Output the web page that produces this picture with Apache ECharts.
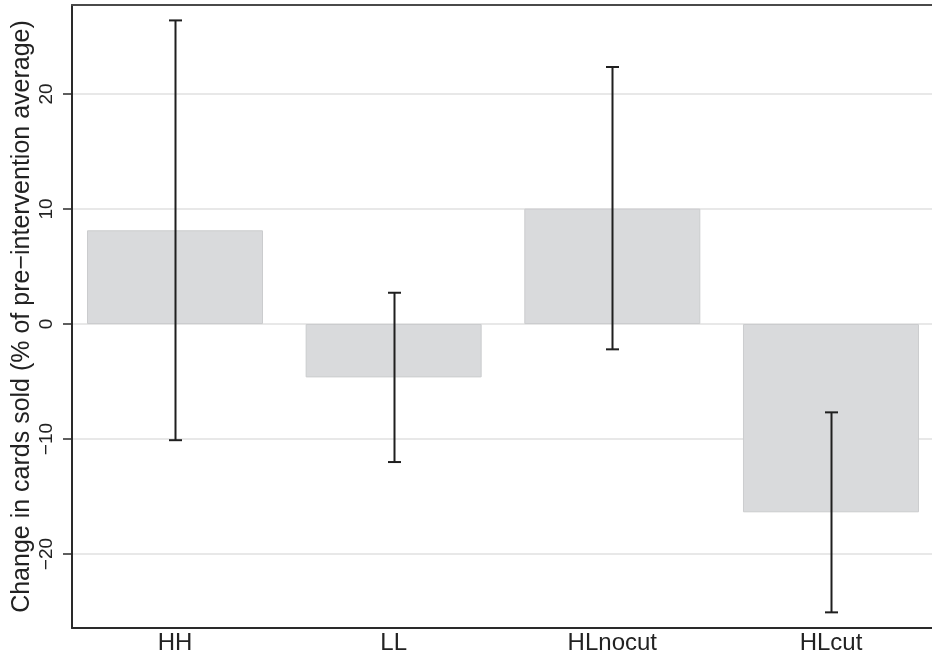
<!DOCTYPE html>
<html>
<head>
<meta charset="utf-8">
<script src="https://cdn.jsdelivr.net/npm/echarts@6/dist/echarts.min.js"></script>
<style>html,body{margin:0;padding:0;background:#fff;}#c{width:932px;height:658px;}</style>
</head>
<body>
<div id="c"></div>
<script>
var categories = ['HH', 'LL', 'HLnocut', 'HLcut'];
var means = [8.15, -4.64, 10.03, -16.37];
var ciLow = [-10.1, -12.0, -2.2, -25.07];
var ciHigh = [26.4, 2.72, 22.35, -7.68];
var yTicks = [-20, -10, 0, 10, 20];
var yName = 'Change in cards sold (% of pre\u2212intervention average)';

var FONT = '"Liberation Sans", Arial, Helvetica, sans-serif';
var positions = categories.map(function (c, i) { return i + 1; });

var chart = echarts.init(document.getElementById('c'));
chart.setOption({
  animation: false,
  backgroundColor: '#ffffff',
  grid: { left: 72, right: 0, top: 5, bottom: 30, containLabel: false, outerBoundsMode: 'none' },
  xAxis: [{
    type: 'value', min: 0.529, max: 4.462,
    axisLine: { show: true, onZero: false, lineStyle: { color: '#2a2a2a', width: 2 } },
    axisTick: { show: false },
    splitLine: { show: false },
    axisLabel: {
      customValues: positions,
      formatter: function (v) { return categories[Math.round(v) - 1] || ''; },
      fontFamily: FONT, fontSize: 24, color: '#222', margin: 3
    }
  }, {
    type: 'value', position: 'top', min: 0.529, max: 4.462,
    axisLine: { show: true, onZero: false, lineStyle: { color: '#4a4a4a', width: 2 } },
    axisTick: { show: false }, axisLabel: { show: false }, splitLine: { show: false }
  }],
  yAxis: {
    type: 'value', min: -26.43, max: 27.74,
    name: yName, nameLocation: 'middle', nameGap: 37, nameMoveOverlap: false,
    nameTextStyle: { fontFamily: FONT, fontSize: 25, color: '#222' },
    axisLine: { show: true, onZero: false, lineStyle: { color: '#2a2a2a', width: 2 } },
    axisTick: { show: true, customValues: yTicks, length: 9, lineStyle: { color: '#2a2a2a', width: 1.5 } },
    splitLine: { show: false },
    axisLabel: {
      customValues: yTicks, rotate: 90, margin: 16,
      formatter: function (v) { return v < 0 ? '\u2212' + Math.abs(v) : String(v); },
      fontFamily: FONT, fontSize: 19, color: '#222'
    }
  },
  series: [{
    type: 'custom', name: 'grid', z: 0, silent: true,
    data: yTicks.map(function (v) { return [0, v]; }),
    renderItem: function (params, api) {
      var cs = params.coordSys;
      var y = api.coord([1, api.value(1)])[1];
      return { type: 'line', shape: { x1: cs.x, y1: y, x2: cs.x + cs.width, y2: y },
        style: { stroke: '#e8e8e8', lineWidth: 2 } };
    }
  }, {
    type: 'bar', name: 'mean', z: 2, barWidth: 176,
    data: positions.map(function (p, i) { return [p, means[i]]; }),
    itemStyle: { color: '#d9dadc', borderColor: '#cbccce', borderWidth: 1 }
  }, {
    type: 'custom', name: 'ci', z: 3,
    data: positions.map(function (p, i) { return [p, ciLow[i], ciHigh[i]]; }),
    renderItem: function (params, api) {
      var lo = api.coord([api.value(0), api.value(1)]);
      var hi = api.coord([api.value(0), api.value(2)]);
      var x = Math.round(lo[0]) + 0.5;
      var hw = 6.5;
      var st = { stroke: '#1f1f1f', lineWidth: 2 };
      return { type: 'group', children: [
        { type: 'line', shape: { x1: x, y1: lo[1], x2: x, y2: hi[1] }, style: st },
        { type: 'line', shape: { x1: x - hw, y1: lo[1], x2: x + hw, y2: lo[1] }, style: st },
        { type: 'line', shape: { x1: x - hw, y1: hi[1], x2: x + hw, y2: hi[1] }, style: st }
      ] };
    }
  }]
});
</script>
</body>
</html>
